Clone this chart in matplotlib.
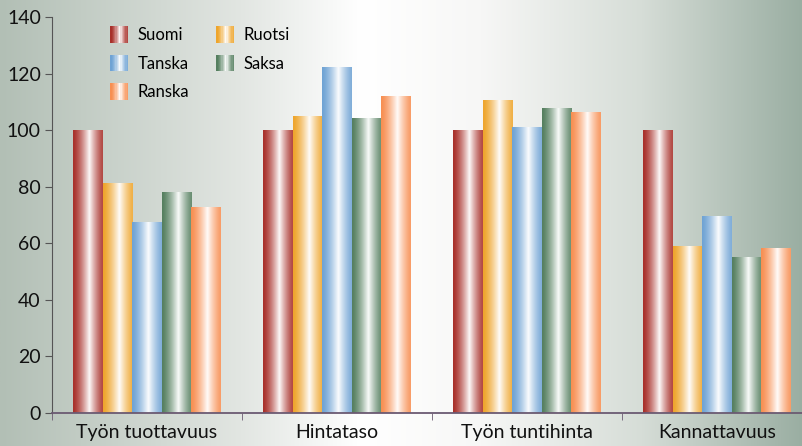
import numpy as np
import matplotlib
matplotlib.use("Agg")
import matplotlib.pyplot as plt
from matplotlib.colors import to_rgb
from matplotlib.patches import Rectangle
from matplotlib.legend_handler import HandlerBase

plt.rcParams['font.family'] = ['Lato', 'DejaVu Sans']

categories = ['Työn tuottavuus', 'Hintataso', 'Työn tuntihinta', 'Kannattavuus']
countries = ['Suomi', 'Ruotsi', 'Tanska', 'Saksa', 'Ranska']
suomi = [100, 100, 100, 100]
ruotsi = [81, 105, 110.5, 58.7]
tanska = [67.5, 122.3, 101, 69.3]
saksa = [77.8, 104, 107.5, 55]
ranska = [72.5, 112, 106.3, 58]
colors = ['#a8302a', '#eea52c', '#6fa3d4', '#557f5f', '#f78f52']

values = [suomi, ruotsi, tanska, saksa, ranska]


def shade_profile(n=64):
    # how much white is mixed in across a bar (cylinder look)
    t = np.linspace(0, 1, n)
    w = np.where(t < 0.55, 0.97 * (t / 0.55) ** 1.4,
                 0.12 + 0.85 * (1 - (t - 0.55) / 0.45) ** 1.3)
    return w


def shaded_colors(color, n=64):
    c = np.array(to_rgb(color))
    w = shade_profile(n)[:, None]
    return c * (1 - w) + w


class ShadedHandler(HandlerBase):
    def __init__(self, color):
        super().__init__()
        self.color = color

    def create_artists(self, legend, orig_handle, xdescent, ydescent,
                       width, height, fontsize, trans):
        n = 14
        cols = shaded_colors(self.color, n)
        w = width / n
        arts = []
        for i in range(n):
            r = Rectangle((-xdescent + i * w, -ydescent - 1), w * 1.05, height + 2,
                          facecolor=cols[i], edgecolor='none', transform=trans)
            arts.append(r)
        return arts


fig = plt.figure(figsize=(8.03, 4.46), dpi=100)

# background gradient
bg = fig.add_axes([0, 0, 1, 1], zorder=0)
xs = np.array([0, 0.3, 0.45, 0.6, 0.8, 1.0])
cs = np.array([to_rgb('#b2bfb5'), to_rgb('#e2e6e2'), to_rgb('#ffffff'),
               to_rgb('#f7f7f6'), to_rgb('#d6ddd7'), to_rgb('#9aaea2')])
gx = np.linspace(0, 1, 400)
grad = np.stack([np.interp(gx, xs, cs[:, k]) for k in range(3)], axis=-1)
bg.imshow(grad[None, :, :], aspect='auto', extent=[0, 1, 0, 1])
bg.axis('off')

ax = fig.add_axes([52 / 803, 33 / 446, 760 / 803, 396 / 446], zorder=1)
ax.patch.set_alpha(0)

x = np.arange(len(categories))
bw = 0.155
for i, (vals, col) in enumerate(zip(values, colors)):
    bars = ax.bar(x + (i - 2) * bw, vals, bw, color='none', edgecolor='none')
    img = shaded_colors(col)[None, :, :]
    for b in bars:
        x0 = b.get_x()
        ax.imshow(img, aspect='auto', interpolation='bilinear',
                  extent=[x0, x0 + b.get_width(), 0, b.get_height()], zorder=2)

ax.set_xlim(-0.5, 3.5)
ax.set_ylim(0, 140)
ax.set_yticks(range(0, 141, 20))
ax.set_xticks(x)
ax.set_xticklabels(categories, fontsize=14, color='#111111')
ax.set_xticks(np.arange(-0.5, 3.6, 1), minor=True)
ax.tick_params(axis='x', which='major', length=0, pad=8)
ax.tick_params(axis='x', which='minor', length=5, color='#6b5a72', direction='out')
ax.tick_params(axis='y', length=5, color='#555555', labelsize=14,
               labelcolor='#111111', pad=3)
for s in ['top', 'right']:
    ax.spines[s].set_visible(False)
ax.spines['left'].set_color('#555555')
ax.spines['bottom'].set_color('#6b5a72')
ax.spines['bottom'].set_linewidth(1.3)

order = [0, 2, 4, 1, 3]
handles = [Rectangle((0, 0), 1, 1) for _ in order]
hmap = {h: ShadedHandler(colors[k]) for h, k in zip(handles, order)}
ax.legend(handles, [countries[k] for k in order], handler_map=hmap, ncol=2,
          loc='upper left', bbox_to_anchor=(0.066, 0.995), frameon=False,
          fontsize=12, handlelength=1.05, handleheight=0.9, labelspacing=0.75,
          columnspacing=1.6, handletextpad=0.6, borderpad=0)

fig.savefig('out.png', dpi=100)
